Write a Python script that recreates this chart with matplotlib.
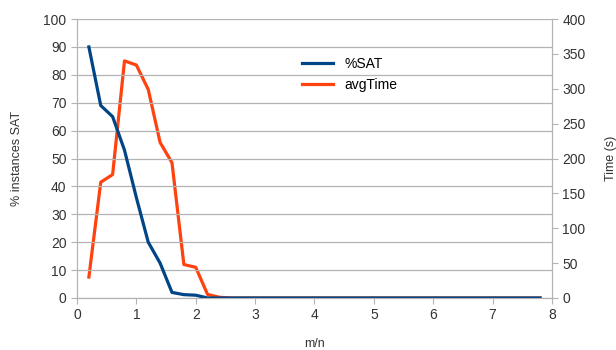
import matplotlib.pyplot as plt

plt.rcParams['font.family'] = ['Liberation Sans', 'DejaVu Sans']

# m/n ratio
m_n = [0.2, 0.4, 0.6, 0.8, 1.0, 1.2, 1.4, 1.6, 1.8, 2.0,
       2.2, 2.4, 2.6, 2.8, 3.0, 3.2, 3.4, 3.6, 3.8, 4.0,
       4.2, 4.4, 4.6, 4.8, 5.0, 5.2, 5.4, 5.6, 5.8, 6.0,
       6.2, 6.4, 6.6, 6.8, 7.0, 7.2, 7.4, 7.6, 7.8]
# % instances SAT
pct_sat = [90, 69, 65, 53, 36, 20, 12.5, 2, 1.2, 1,
           0, 0, 0, 0, 0, 0, 0, 0, 0, 0,
           0, 0, 0, 0, 0, 0, 0, 0, 0, 0,
           0, 0, 0, 0, 0, 0, 0, 0, 0]
# avg time in seconds
avg_time = [30, 166, 177, 340, 334, 299, 223, 194, 48, 44,
            5, 1, 0, 0, 0, 0, 0, 0, 0, 0,
            0, 0, 0, 0, 0, 0, 0, 0, 0, 0,
            0, 0, 0, 0, 0, 0, 0, 0, 0]

blue = '#004586'
orange = '#ff420e'
grid_col = '#b3b3b3'

fig = plt.figure(figsize=(6.16, 3.5), dpi=100)
ax = fig.add_axes([0.125, 0.1486, 0.771, 0.797])
ax2 = ax.twinx()

l2, = ax2.plot(m_n, avg_time, color=orange, lw=2.3, label='avgTime')
l1, = ax.plot(m_n, pct_sat, color=blue, lw=2.3, label='%SAT')
ax.set_zorder(ax2.get_zorder() + 1)
ax.patch.set_visible(False)

ax.set_xlim(0, 8)
ax.set_ylim(0, 100)
ax2.set_ylim(0, 400)
ax.set_xticks(range(9))
ax.set_yticks(range(0, 101, 10))
ax2.set_yticks(range(0, 401, 50))

ax.yaxis.grid(True, color=grid_col, lw=0.9)
ax.set_axisbelow(True)

for a in (ax, ax2):
    for s in a.spines.values():
        s.set_color(grid_col)
    a.spines['top'].set_visible(False)
    a.tick_params(colors=grid_col, labelcolor='#333333', labelsize=10, length=4)

ax.set_xlabel('m/n', fontsize=9, color='#333333')
ax.set_ylabel('% instances SAT', fontsize=9, color='#333333')
ax2.set_ylabel('Time (s)', fontsize=9, color='#333333')
ax.xaxis.set_label_coords(0.5, -0.142)
ax.yaxis.set_label_coords(-0.114, 0.5)
ax2.yaxis.set_label_coords(1.112, 0.5)

ax.legend(handles=[l1, l2], loc='upper left', bbox_to_anchor=(0.447, 0.909),
          frameon=False, fontsize=10, handlelength=2.25, labelspacing=0.5)

fig.savefig('out.png', dpi=100)
